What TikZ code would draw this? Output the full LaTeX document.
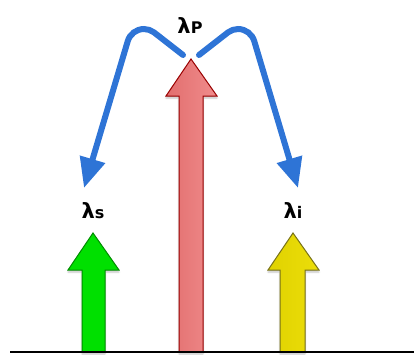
\documentclass[tikz,border=0pt]{standalone}
\usepackage{fontspec}
\newfontfamily\lblfont{DejaVu Sans}
\usetikzlibrary{arrows.meta,shadows.blur}

\begin{document}
\begin{tikzpicture}[x=1pt,y=-1pt,
  beam/.style={line width=1pt,blur shadow={shadow blur steps=6,shadow xshift=0pt,shadow yshift=-2pt,shadow opacity=25}},
  pump/.style={beam,draw=red!60!black,left color={rgb,255:red,226;green,110;blue,110},right color={rgb,255:red,240;green,140;blue,140}},
  signal/.style={beam,draw=green!55!black,fill={rgb,255:red,0;green,224;blue,0}},
  idler/.style={beam,draw=olive!80!black,left color={rgb,255:red,224;green,210;blue,0},right color={rgb,255:red,236;green,222;blue,10}},
  conv/.style={line width=6pt,line cap=round,draw={rgb,255:red,46;green,116;blue,214},
    -{Triangle[length=30pt,width=25pt]}},
  lbl/.style={font=\lblfont\bfseries,inner sep=0pt}
]
\useasboundingbox (0,0) rectangle (414,354);

% beams
\draw[signal] (82,352) -- (82,270) -- (68,270) -- (93,233) -- (119,270) -- (105,270) -- (105,352) -- cycle;
\draw[pump] (179,352) -- (179,96) -- (166,96) -- (191,59) -- (217,96) -- (203,96) -- (203,352) -- cycle;
\draw[idler] (280,352) -- (280,270) -- (268,270) -- (293,233) -- (319,270) -- (305,270) -- (305,352) -- cycle;
\draw[line width=2pt] (10,352) -- (414,352);

% labels
\node[lbl] (lp) at (190,26) {{\fontsize{21}{21}\selectfont λ}{\fontsize{16}{16}\selectfont P}};
\node[lbl] (ls) at (93,211) {{\fontsize{21}{21}\selectfont λ}{\fontsize{16}{16}\selectfont s}};
\node[lbl] (li) at (293,211) {{\fontsize{21}{21}\selectfont λ}{\fontsize{16}{16}\selectfont i}};

% splitting
\coordinate (sl) at (183,55);
\coordinate (sr) at (199,55);
\coordinate (el) at (84,188);
\coordinate (er) at (298,188);
\draw[conv] (sl) -- (154,32.4) .. controls (151.1,30.3) and (147.6,29) .. (144,29)
  .. controls (136.4,29) and (129.8,34) .. (127.7,41.3) -- (el);
\draw[conv] (sr) -- (228,32.4) .. controls (230.9,30.3) and (234.4,29) .. (238,29)
  .. controls (245.6,29) and (252.2,34) .. (254.3,41.3) -- (er);
\end{tikzpicture}
\end{document}
